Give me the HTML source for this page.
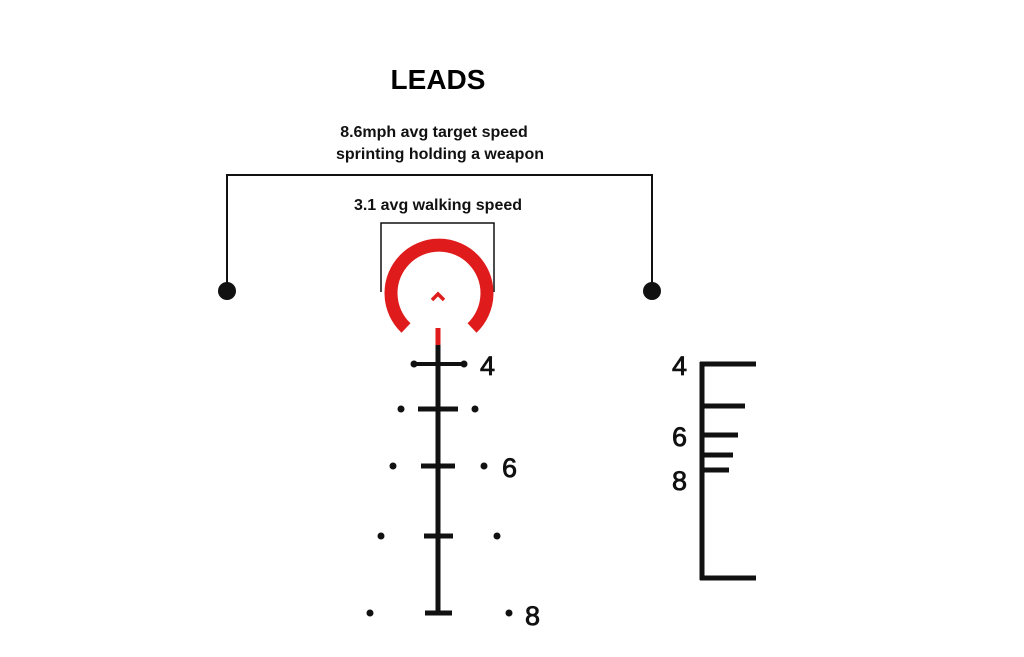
<!DOCTYPE html>
<html><head><style>body{margin:0;background:#fff}</style></head><body>
<svg width="1024" height="652" xmlns="http://www.w3.org/2000/svg" font-family="Liberation Sans, sans-serif">
<rect width="1024" height="652" fill="#fff"/>
<text x="438" y="89" font-size="28" font-weight="bold" text-anchor="middle" fill="#000">LEADS</text>
<text x="434" y="137" font-size="16" font-weight="bold" text-anchor="middle" fill="#111">8.6mph avg target speed</text>
<text x="440" y="159" font-size="16" font-weight="bold" text-anchor="middle" fill="#111">sprinting holding a weapon</text>
<text x="438" y="210" font-size="16" font-weight="bold" text-anchor="middle" fill="#111">3.1 avg walking speed</text>
<polyline points="227,291 227,175 652,175 652,291" fill="none" stroke="#111" stroke-width="2"/>
<circle cx="227" cy="291" r="9" fill="#111"/>
<circle cx="652" cy="291" r="9" fill="#111"/>
<polyline points="381,292 381,223 494,223 494,292" fill="none" stroke="#111" stroke-width="1.5"/>
<path d="M406,328 A48,48 0 1 1 472,328" fill="none" stroke="#e01b1b" stroke-width="13"/>
<polyline points="432,300 438,294 444,300" fill="none" stroke="#e01b1b" stroke-width="3.5"/>
<line x1="438" y1="328" x2="438" y2="346" stroke="#e01b1b" stroke-width="5"/>
<g stroke="#111" stroke-width="5">
<line x1="438" y1="345" x2="438" y2="614"/>
<line x1="415" y1="364" x2="463" y2="364" stroke-width="4"/>
<line x1="418" y1="409" x2="458" y2="409"/>
<line x1="421" y1="466" x2="455" y2="466"/>
<line x1="424" y1="536" x2="453" y2="536"/>
<line x1="425" y1="613" x2="452" y2="613"/>
</g>
<g fill="#111">
<circle cx="414" cy="364" r="3.5"/><circle cx="464" cy="364" r="3.5"/>
<circle cx="401" cy="409" r="3.5"/><circle cx="475" cy="409" r="3.5"/>
<circle cx="393" cy="466" r="3.5"/><circle cx="484" cy="466" r="3.5"/>
<circle cx="381" cy="536" r="3.5"/><circle cx="497" cy="536" r="3.5"/>
<circle cx="370" cy="613" r="3.5"/><circle cx="509" cy="613" r="3.5"/>
</g>
<g font-size="27" fill="#111" stroke="#111" stroke-width="0.8">
<text x="480" y="375">4</text>
<text x="502" y="477">6</text>
<text x="525" y="625">8</text>
<text x="672" y="375">4</text>
<text x="672" y="446">6</text>
<text x="672" y="490">8</text>
</g>
<g stroke="#111" stroke-width="5">
<line x1="702" y1="362" x2="702" y2="580"/>
<line x1="700" y1="364" x2="756" y2="364"/>
<line x1="700" y1="406" x2="745" y2="406"/>
<line x1="700" y1="435" x2="738" y2="435"/>
<line x1="700" y1="455" x2="733" y2="455"/>
<line x1="700" y1="470" x2="729" y2="470"/>
<line x1="700" y1="578" x2="756" y2="578"/>
</g>
</svg>
</body></html>
